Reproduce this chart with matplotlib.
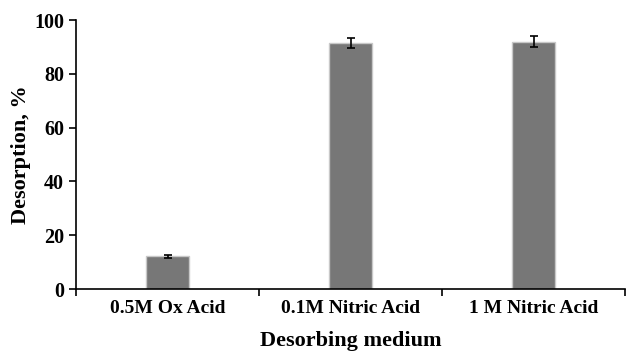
import matplotlib.pyplot as plt
import numpy as np

# desorption efficiency per desorbing medium
media = ["0.5M Ox Acid", "0.1M Nitric Acid", "1 M Nitric Acid"]
desorption = [12.1, 91.4, 92.0]
err = [0.4, 1.9, 1.9]

plt.rcParams["font.family"] = "Liberation Serif"
plt.rcParams["font.weight"] = "bold"

fig = plt.figure(figsize=(6.27, 3.51), dpi=100)
ax = fig.add_axes([0.1212, 0.1766, 0.876, 0.7664])

x = np.arange(len(media))
ax.bar(x, desorption, width=0.235, color="#777777", edgecolor="#c8c8c8",
       linewidth=1.0, zorder=2)
ax.errorbar(x, desorption, yerr=err, fmt="none", ecolor="black",
            elinewidth=1.2, capsize=3, capthick=1.2, zorder=3)

ax.set_xlim(-0.5, 2.5)
ax.set_ylim(0, 100)
ax.set_yticks([0, 20, 40, 60, 80, 100])
ax.set_xticks([-0.5, 0.5, 1.5, 2.5])
ax.set_xticklabels([])
ax.set_xticks(x, minor=True)
ax.set_xticklabels(media, minor=True)
ax.tick_params(axis="x", which="major", direction="out", length=5, width=1.2)
ax.tick_params(axis="x", which="minor", length=0, pad=8, labelsize=14)
ax.tick_params(axis="y", direction="out", length=5, width=1.2, labelsize=14.5)

for s in ["top", "right"]:
    ax.spines[s].set_visible(False)
for s in ["left", "bottom"]:
    ax.spines[s].set_linewidth(1.2)

ax.set_xlabel("Desorbing medium", fontsize=16, fontweight="bold", labelpad=10)
ax.set_ylabel("Desorption, %", fontsize=16, fontweight="bold", labelpad=2)

fig.savefig("out.png", dpi=100)
